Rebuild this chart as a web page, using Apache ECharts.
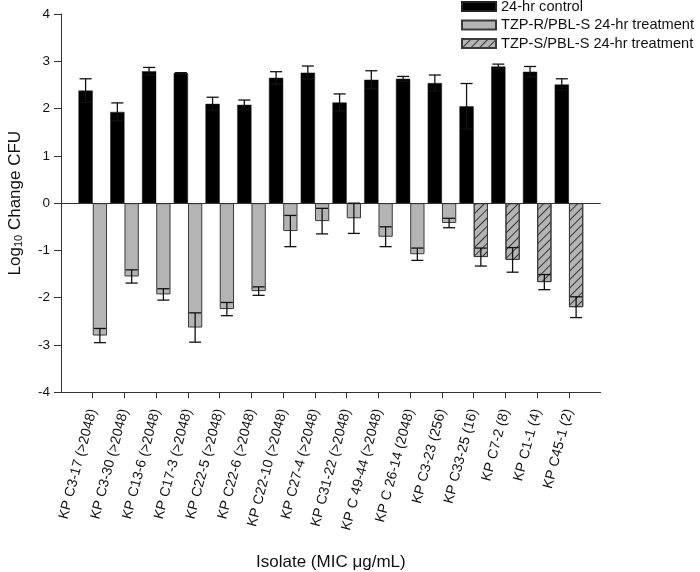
<!DOCTYPE html>
<html><head><meta charset="utf-8">
<script src="https://cdn.jsdelivr.net/npm/echarts@6/dist/echarts.min.js"></script>
<style>html,body{margin:0;padding:0;background:#fff}#c{width:700px;height:572px}</style>
</head><body><div id="c"></div>
<script>
const categories = ['KP C3-17 (>2048)', 'KP C3-30 (>2048)', 'KP C13-6 (>2048)', 'KP C17-3 (>2048)', 'KP C22-5 (>2048)', 'KP C22-6 (>2048)', 'KP C22-10 (>2048)', 'KP C27-4 (>2048)', 'KP C31-22 (>2048)', 'KP C 49-44 (>2048)', 'KP C 26-14 (2048)', 'KP C3-23 (256)', 'KP C33-25 (16)', 'KP C7-2 (8)', 'KP C1-1 (4)', 'KP C45-1 (2)'];
const controlMean = [2.38, 1.93, 2.79, 2.75, 2.10, 2.08, 2.65, 2.76, 2.13, 2.61, 2.63, 2.54, 2.05, 2.89, 2.78, 2.51];
const controlErr  = [0.25, 0.19, 0.08, 0.01, 0.14, 0.10, 0.13, 0.14, 0.18, 0.19, 0.05, 0.17, 0.48, 0.05, 0.11, 0.12];
const tzpRMean = [-2.80, -1.55, -1.93, -2.63, -2.24, -1.86, -0.59, -0.38, -0.32, -0.71, -1.08, -0.42, null, null, null, null];
const tzpRErr  = [0.15, 0.14, 0.12, 0.31, 0.14, 0.09, 0.33, 0.27, 0.32, 0.21, 0.13, 0.10, null, null, null, null];
const tzpSMean = [null, null, null, null, null, null, null, null, null, null, null, null, -1.14, -1.20, -1.67, -2.20];
const tzpSErr  = [null, null, null, null, null, null, null, null, null, null, null, null, 0.19, 0.26, 0.16, 0.22];
const seriesNames = ['24-hr control', 'TZP-R/PBL-S 24-hr treatment', 'TZP-S/PBL-S 24-hr treatment'];
const yMin = -4, yMax = 4, yStep = 1;

const positions = categories.map((c, i) => i + 1);
const toPairs = (arr) => arr.map((v, i) => [positions[i], v]);
const toErr = (m, e) => m.map((v, i) => (v === null ? null : [positions[i], v, e[i]])).filter(d => d);

function errRender(sign) {
  return function (params, api) {
    const x = api.value(0), m = api.value(1), e = api.value(2);
    const band = api.size([1, 0])[0];
    const off = sign * band * 0.225;
    const hi = api.coord([x, m + e]);
    const lo = api.coord([x, m - e]);
    const cx = hi[0] + off;
    const cap = band * 0.19;
    const st = { stroke: '#111', lineWidth: 1.3 };
    return {
      type: 'group',
      children: [
        { type: 'line', shape: { x1: cx, y1: hi[1], x2: cx, y2: lo[1] }, style: st },
        { type: 'line', shape: { x1: cx - cap, y1: hi[1], x2: cx + cap, y2: hi[1] }, style: st },
        { type: 'line', shape: { x1: cx - cap, y1: lo[1], x2: cx + cap, y2: lo[1] }, style: st }
      ]
    };
  };
}

const chart = echarts.init(document.getElementById('c'), null, { renderer: 'canvas' });
const font = 'Liberation Sans, Arial, sans-serif';
chart.setOption({
  animation: false,
  textStyle: { fontFamily: font },
  grid: { left: 61, right: 99.3, top: 14, bottom: 179.7, containLabel: false, outerBoundsMode: 'none' },
  legend: {
    data: seriesNames,
    orient: 'vertical',
    left: 456, top: -6,
    icon: 'rect',
    itemWidth: 34, itemHeight: 9, itemGap: 3.5, itemTextGap: 9,
    textStyle: { fontSize: 14.6, color: '#111', fontFamily: font }
  },
  xAxis: {
    type: 'value', min: 0, max: positions.length + 1, interval: 1,
    splitLine: { show: false },
    axisLine: { onZero: false, lineStyle: { color: '#333', width: 1 } },
    axisTick: { customValues: positions, length: 6, lineStyle: { color: '#333' } },
    axisLabel: {
      customValues: positions,
      formatter: (v) => categories[Math.round(v) - 1] || '',
      rotate: 75, fontSize: 14, color: '#111', margin: 17, padding: [9, 0, 0, 0], fontFamily: font
    },
    name: 'Isolate (MIC \u03bcg/mL)',
    nameLocation: 'middle', nameGap: 162,
    nameTextStyle: { fontSize: 17, color: '#111', fontFamily: font }
  },
  yAxis: {
    type: 'value', min: yMin, max: yMax, interval: yStep,
    splitLine: { show: false },
    axisLine: { show: true, lineStyle: { color: '#333', width: 1 } },
    axisTick: { show: true, length: 7, lineStyle: { color: '#333' } },
    axisLabel: { fontSize: 13.5, color: '#111', margin: 11, fontFamily: font },
    name: '{a|Log}{s|10}{a| Change CFU}',
    nameLocation: 'middle', nameGap: 37, nameRotate: 90,
    nameTextStyle: {
      color: '#111', fontFamily: font,
      rich: {
        a: { fontSize: 17, lineHeight: 22, color: '#111', fontFamily: font, verticalAlign: 'bottom' },
        s: { fontSize: 11, lineHeight: 11, color: '#111', fontFamily: font, verticalAlign: 'bottom' }
      }
    }
  },
  series: [
    {
      name: seriesNames[0], type: 'bar', data: toPairs(controlMean),
      barWidth: '45%', barGap: '0%',
      itemStyle: { color: '#000', borderColor: '#222', borderWidth: 0.5 },
      markLine: {
        silent: true, symbol: ['none', 'none'], animation: false,
        label: { show: false },
        lineStyle: { color: '#333', width: 1, type: 'solid' },
        data: [{ yAxis: 0 }]
      }
    },
    {
      name: seriesNames[1], type: 'bar', stack: 'treat', data: toPairs(tzpRMean),
      barWidth: '45%', barGap: '0%',
      itemStyle: { color: '#b4b4b4', borderColor: '#3a3a3a', borderWidth: 1 }
    },
    {
      name: seriesNames[2], type: 'bar', stack: 'treat', data: toPairs(tzpSMean),
      barWidth: '45%', barGap: '0%',
      itemStyle: {
        color: '#b4b4b4', borderColor: '#3a3a3a', borderWidth: 1,
        decal: { symbol: 'rect', symbolSize: 1, dashArrayX: [1, 0], dashArrayY: [1, 4.5], rotation: -Math.PI / 4, color: '#333' }
      }
    },
    { type: 'custom', name: 'err0', renderItem: errRender(-1), data: toErr(controlMean, controlErr), z: 5, silent: true, encode: { x: 0, y: [1, 2] } },
    { type: 'custom', name: 'err1', renderItem: errRender(1), data: toErr(tzpRMean, tzpRErr), z: 5, silent: true, encode: { x: 0, y: [1, 2] } },
    { type: 'custom', name: 'err2', renderItem: errRender(1), data: toErr(tzpSMean, tzpSErr), z: 5, silent: true, encode: { x: 0, y: [1, 2] } }
  ]
});
</script></body></html>
